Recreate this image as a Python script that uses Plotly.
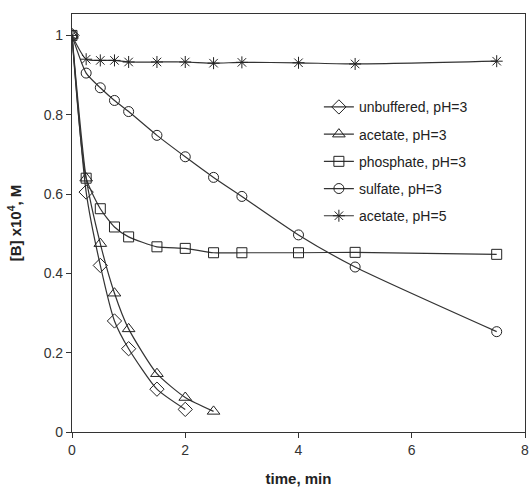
import plotly.graph_objects as go

# Data
t_unbuf = [0, 0.25, 0.5, 0.75, 1.0, 1.5, 2.0]
y_unbuf = [1.0, 0.605, 0.42, 0.28, 0.21, 0.108, 0.057]

t_acet3 = [0, 0.25, 0.5, 0.75, 1.0, 1.5, 2.0, 2.5]
y_acet3 = [1.0, 0.64, 0.475, 0.35, 0.26, 0.147, 0.087, 0.052]

t_phos = [0, 0.25, 0.5, 0.75, 1.0, 1.5, 2.0, 2.5, 3.0, 4.0, 5.0, 7.5]
y_phos = [1.0, 0.64, 0.563, 0.517, 0.492, 0.467, 0.463, 0.452, 0.452, 0.452, 0.453, 0.448]

t_sulf = [0, 0.25, 0.5, 0.75, 1.0, 1.5, 2.0, 2.5, 3.0, 4.0, 5.0, 7.5]
y_sulf = [1.0, 0.905, 0.868, 0.836, 0.808, 0.748, 0.694, 0.642, 0.594, 0.497, 0.416, 0.253]

t_acet5 = [0, 0.25, 0.5, 0.75, 1.0, 1.5, 2.0, 2.5, 3.0, 4.0, 5.0, 7.5]
y_acet5 = [1.0, 0.94, 0.937, 0.937, 0.933, 0.933, 0.933, 0.93, 0.932, 0.931, 0.928, 0.935]

names = ["unbuffered, pH=3", "acetate, pH=3", "phosphate, pH=3", "sulfate, pH=3", "acetate, pH=5"]
symbols = ["diamond-open", "triangle-up-open", "square-open", "circle-open", "asterisk-open"]
sizes = [11, 11, 10, 10, 10]

series = [(t_unbuf, y_unbuf), (t_acet3, y_acet3), (t_phos, y_phos), (t_sulf, y_sulf), (t_acet5, y_acet5)]

fig = go.Figure()
for i, ((tx, ty), nm, sym, sz) in enumerate(zip(series, names, symbols, sizes)):
    fig.add_trace(go.Scatter(
        x=tx, y=ty, name=nm, mode="lines+markers",
        line=dict(color="#333333", width=1.2, shape="spline", smoothing=0.6),
        marker=dict(symbol=sym, size=sz, color="#222222", line=dict(width=1, color="#222222")),
        legendgroup=str(i),
    ))

axis_common = dict(
    showline=True, linecolor="#333333", linewidth=1.2, mirror=True, automargin=False,
    ticks="outside", ticklen=5, tickcolor="#333333", showgrid=False, zeroline=False,
    ticklabeloverflow="allow",
    tickfont=dict(family="Liberation Sans, Arial", size=14, color="#333333"),
)

fig.update_layout(
    width=529, height=490,
    margin=dict(l=72, r=4, t=14, b=58),
    paper_bgcolor="white", plot_bgcolor="white",
    font=dict(family="Liberation Sans, Arial", color="#222222"),
    xaxis=dict(range=[0, 8], tickvals=[0, 2, 4, 6, 8], ticktext=["0", "2", "4", "6", "8"],
               title=dict(text="<b>time, min</b>", font=dict(size=15), standoff=16), **axis_common),
    yaxis=dict(range=[0, 1.054], tickvals=[0, 0.2, 0.4, 0.6, 0.8, 1.0],
               ticktext=["0", "0.2", "0.4", "0.6", "0.8", "1"],
               title=dict(text="<b>[B] x10<sup>4</sup>, M</b>", font=dict(size=15), standoff=18), **axis_common),
    legend=dict(x=0.545, y=0.815, xanchor="left", yanchor="top", bgcolor="rgba(0,0,0,0)",
                font=dict(size=14, color="#222222"), tracegroupgap=6, itemwidth=30),
    showlegend=True,
)

fig.write_html(
    "out.html",
    config={"displayModeBar": False},
    post_script="document.body.style.margin='0';document.body.style.overflow='hidden';",
)
